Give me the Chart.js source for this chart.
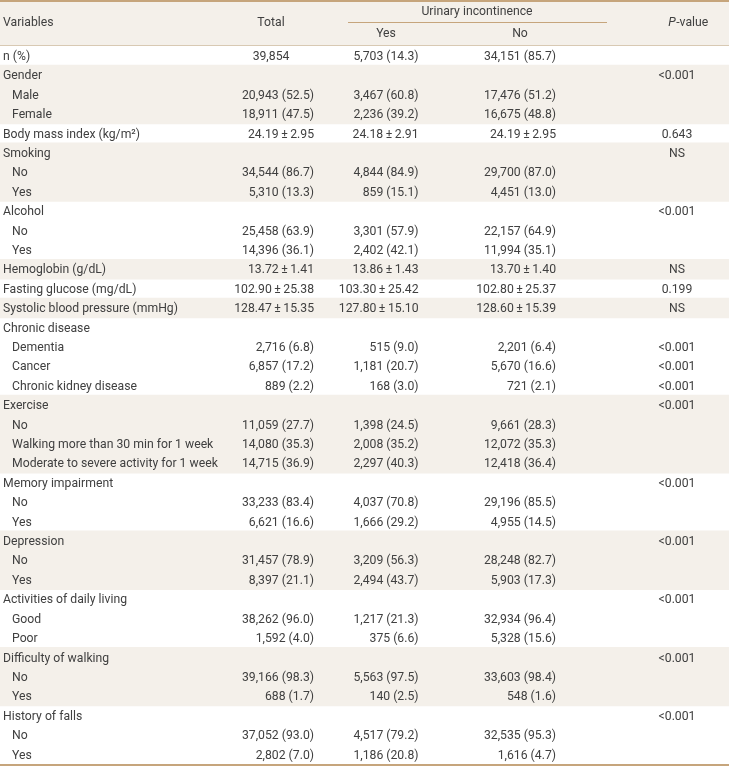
<!DOCTYPE html>
<html>
<head>
<meta charset="utf-8">
<script src="https://cdn.jsdelivr.net/npm/chart.js@4.4.1/dist/chart.umd.min.js"></script>
<style>
  body { margin: 0; background: #fff; }
  #wrap { width: 729px; height: 767px; }
</style>
</head>
<body>
<div id="wrap"><canvas id="table-canvas" width="729" height="767"></canvas></div>
<script>
// row labels (Variables column)
const variables = [
  'n (%)', 'Gender', 'Male', 'Female', 'Body mass index (kg/m²)',
  'Smoking', 'No', 'Yes', 'Alcohol', 'No', 'Yes',
  'Hemoglobin (g/dL)', 'Fasting glucose (mg/dL)', 'Systolic blood pressure (mmHg)',
  'Chronic disease', 'Dementia', 'Cancer', 'Chronic kidney disease',
  'Exercise', 'No', 'Walking more than 30 min for 1 week', 'Moderate to severe activity for 1 week',
  'Memory impairment', 'No', 'Yes', 'Depression', 'No', 'Yes',
  'Activities of daily living', 'Good', 'Poor',
  'Difficulty of walking', 'No', 'Yes', 'History of falls', 'No', 'Yes'
];
// 0 = variable, 1 = sub category
const level = [0, 0, 1, 1, 0, 0, 1, 1, 0, 1, 1, 0, 0, 0, 0, 1, 1, 1, 0, 1, 1, 1, 0, 1, 1, 0, 1, 1, 0, 1, 1, 0, 1, 1, 0, 1, 1];

const total = [
  '39,854', '', '20,943 (52.5)', '18,911 (47.5)', '24.19±2.95',
  '', '34,544 (86.7)', '5,310 (13.3)', '', '25,458 (63.9)', '14,396 (36.1)',
  '13.72±1.41', '102.90±25.38', '128.47±15.35',
  '', '2,716 (6.8)', '6,857 (17.2)', '889 (2.2)',
  '', '11,059 (27.7)', '14,080 (35.3)', '14,715 (36.9)',
  '', '33,233 (83.4)', '6,621 (16.6)', '', '31,457 (78.9)', '8,397 (21.1)',
  '', '38,262 (96.0)', '1,592 (4.0)',
  '', '39,166 (98.3)', '688 (1.7)', '', '37,052 (93.0)', '2,802 (7.0)'
];
const uiYes = [
  '5,703 (14.3)', '', '3,467 (60.8)', '2,236 (39.2)', '24.18±2.91',
  '', '4,844 (84.9)', '859 (15.1)', '', '3,301 (57.9)', '2,402 (42.1)',
  '13.86±1.43', '103.30±25.42', '127.80±15.10',
  '', '515 (9.0)', '1,181 (20.7)', '168 (3.0)',
  '', '1,398 (24.5)', '2,008 (35.2)', '2,297 (40.3)',
  '', '4,037 (70.8)', '1,666 (29.2)', '', '3,209 (56.3)', '2,494 (43.7)',
  '', '1,217 (21.3)', '375 (6.6)',
  '', '5,563 (97.5)', '140 (2.5)', '', '4,517 (79.2)', '1,186 (20.8)'
];
const uiNo = [
  '34,151 (85.7)', '', '17,476 (51.2)', '16,675 (48.8)', '24.19±2.95',
  '', '29,700 (87.0)', '4,451 (13.0)', '', '22,157 (64.9)', '11,994 (35.1)',
  '13.70±1.40', '102.80±25.37', '128.60±15.39',
  '', '2,201 (6.4)', '5,670 (16.6)', '721 (2.1)',
  '', '9,661 (28.3)', '12,072 (35.3)', '12,418 (36.4)',
  '', '29,196 (85.5)', '4,955 (14.5)', '', '28,248 (82.7)', '5,903 (17.3)',
  '', '32,934 (96.4)', '5,328 (15.6)',
  '', '33,603 (98.4)', '548 (1.6)', '', '32,535 (95.3)', '1,616 (4.7)'
];
const pValues = [
  '', '<0.001', '', '', '0.643',
  'NS', '', '', '<0.001', '', '',
  'NS', '0.199', 'NS',
  '', '<0.001', '<0.001', '<0.001',
  '<0.001', '', '', '',
  '<0.001', '', '', '<0.001', '', '',
  '<0.001', '', '',
  '<0.001', '', '', '<0.001', '', ''
];

const headTitles = ['Variables', 'Total', 'Urinary incontinence', 'Yes', 'No', 'P-value'];

// shading alternates per variable group
let grp = -1;
const shaded = variables.map((v, i) => {
  if (level[i] === 0) grp++;
  return grp % 2 === 1;
});

const SHADE = '#f4f0ea';
const TAN = '#c6a57c';
const TEXT = '#404040';
const FONT = '13px Roboto, "Noto Sans", sans-serif';
const ITALIC = 'italic 13px Roboto, "Noto Sans", sans-serif';
const SX = 0.94; // condensed look

// column centres in x-scale units (x scale = pixels 0..729)
const cols = { total: 278, yes: 386, no: 520, p: 677 };
const heads = { total: 271, yes: 386, no: 520, span: 477, p: 688 };

// text helpers with horizontal squeeze, a little air round ±
const prep = s => s.replace('±', '\u2009±\u2009');
const tw = (ctx, s) => ctx.measureText(prep(s)).width * SX;
const txt = (ctx, s, x, y, align) => {
  let x0 = x;
  const w = tw(ctx, s);
  if (align === 'center') x0 = x - w / 2;
  if (align === 'right') x0 = x - w;
  ctx.save();
  ctx.translate(x0, y);
  ctx.scale(SX, 1);
  ctx.textAlign = 'left';
  ctx.fillText(prep(s), 0, 0);
  ctx.restore();
};

const tablePlugin = {
  id: 'tableText',
  beforeDatasetsDraw(chart) {
    const ctx = chart.ctx;
    const w = chart.scales.x.getPixelForValue(729);
    ctx.save();
    ctx.fillStyle = SHADE;
    ctx.fillRect(0, 0, w, chart.chartArea.top);
    ctx.restore();
  },
  afterDatasetsDraw(chart) {
    const ctx = chart.ctx;
    const x = chart.scales.x;
    const y = chart.scales.y;
    const top = chart.chartArea.top;
    const bottom = chart.chartArea.bottom;
    const w = x.getPixelForValue(729);

    ctx.save();
    // rules
    ctx.fillStyle = TAN;
    ctx.fillRect(0, 0, w, 2);
    ctx.fillRect(0, bottom, w, 2);
    ctx.fillRect(x.getPixelForValue(348), 22, x.getPixelForValue(607) - x.getPixelForValue(348), 1);
    ctx.fillStyle = '#d8c9b3';
    ctx.fillRect(0, top - 1, w, 1);

    ctx.font = FONT;
    ctx.fillStyle = TEXT;
    ctx.textBaseline = 'middle';

    // header
    txt(ctx, headTitles[0], 3, 23, 'left');
    txt(ctx, headTitles[1], x.getPixelForValue(heads.total), 23, 'center');
    txt(ctx, headTitles[2], x.getPixelForValue(heads.span), 12, 'center');
    txt(ctx, headTitles[3], x.getPixelForValue(heads.yes), 34, 'center');
    txt(ctx, headTitles[4], x.getPixelForValue(heads.no), 34, 'center');
    // P-value with italic P
    const pTxt = headTitles[5];
    ctx.font = ITALIC;
    const pw = tw(ctx, pTxt[0]);
    ctx.font = FONT;
    const rw = tw(ctx, pTxt.slice(1));
    const px0 = x.getPixelForValue(heads.p) - (pw + rw) / 2;
    ctx.font = ITALIC;
    txt(ctx, pTxt[0], px0, 23, 'left');
    ctx.font = FONT;
    txt(ctx, pTxt.slice(1), px0 + pw + 0.5, 23, 'left');

    // body: count (%) and mean±SD right-aligned on the widest count (%)
    const isStat = v => v.includes('(') || v.includes('±');
    const drawCol = (vals, c) => {
      const widths = vals.filter(v => v.includes('(')).map(v => tw(ctx, v));
      const cx = x.getPixelForValue(c);
      const right = cx + Math.max(...widths) / 2;
      vals.forEach((v, i) => {
        if (!v) return;
        const yy = y.getPixelForValue(i) + 1;
        if (isStat(v)) txt(ctx, v, right, yy, 'right');
        else txt(ctx, v, cx - 7, yy, 'center');
      });
    };

    variables.forEach((v, i) => {
      txt(ctx, v, level[i] ? 12 : 3, y.getPixelForValue(i) + 1, 'left');
    });
    drawCol(total, cols.total);
    drawCol(uiYes, cols.yes);
    drawCol(uiNo, cols.no);
    pValues.forEach((v, i) => {
      if (v) txt(ctx, v, x.getPixelForValue(cols.p), y.getPixelForValue(i) + 1, 'center');
    });
    ctx.restore();
  }
};

const ctx = document.getElementById('table-canvas').getContext('2d');
new Chart(ctx, {
  type: 'bar',
  data: {
    labels: variables,
    datasets: [{
      label: 'shade',
      data: shaded.map(s => (s ? [0, 729] : null)),
      backgroundColor: SHADE,
      borderWidth: 0,
      barPercentage: 1.06,
      categoryPercentage: 1
    }]
  },
  options: {
    indexAxis: 'y',
    responsive: false,
    animation: false,
    events: [],
    layout: { padding: { top: 46, bottom: 3, left: 0, right: 0 } },
    plugins: { legend: { display: false }, tooltip: { enabled: false } },
    scales: {
      x: { type: 'linear', min: 0, max: 729, display: false },
      y: { type: 'category', display: false, offset: true }
    }
  },
  plugins: [tablePlugin]
});
</script>
</body>
</html>
